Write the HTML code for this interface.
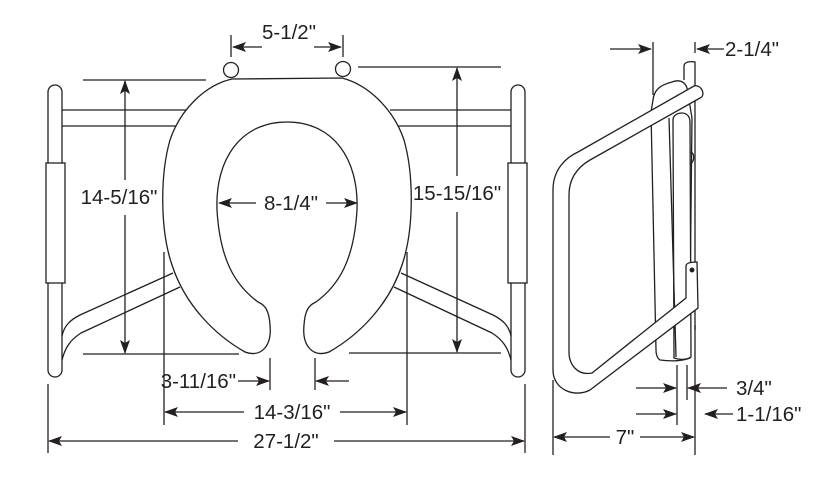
<!DOCTYPE html>
<html><head><meta charset="utf-8"><style>
html,body{margin:0;padding:0;background:#fff;}
svg{display:block;}
text{font-family:"Liberation Sans",sans-serif;font-size:20.5px;fill:#231f20;}
</style></head><body>
<svg width="823" height="480" viewBox="0 0 823 480" xmlns="http://www.w3.org/2000/svg">
<defs>
<marker id="a" markerWidth="14" markerHeight="10" refX="13" refY="5" orient="auto" markerUnits="userSpaceOnUse">
<path d="M0,0 L14,5 L0,10 L3,5 Z" fill="#231f20"/></marker>
</defs>
<g fill="none" stroke="#231f20" stroke-width="1.3">
<rect x="48" y="85" width="14" height="292" rx="7"/>
<rect x="46" y="163" width="19" height="120" fill="#fff"/>
<rect x="511" y="85" width="14" height="292" rx="7"/>
<rect x="508" y="163" width="19" height="120" fill="#fff"/>
<line x1="62" y1="110" x2="186" y2="110"/><line x1="62" y1="126" x2="177" y2="126"/>
<line x1="390" y1="110" x2="511" y2="110"/><line x1="398" y1="126" x2="511" y2="126"/>
<path d="M173,273 L80,315 C70,320 64,326 62,336"/>
<path d="M180,287 L81,333 C70,340 65,348 62,360"/>
<path d="M401,273 L493,315 C503,320 509,326 511,336"/>
<path d="M394,287 L492,333 C503,340 508,348 511,360"/>
<path fill="#fff" d="M232,79 L342,78 C369,85 394,110 404,140 C414,175 414,230 402,265 C389,305 359,335 329,352 C312,358 302,345 304,325 C305,310 309,305 316,302 C339,285 354,260 357,210 C359,160 334,122 287,122 C240,122 215,160 217,210 C220,260 235,285 258,302 C265,305 269,310 270,325 C272,345 262,358 245,352 C215,335 185,305 172,265 C160,230 160,175 170,140 C180,110 205,85 232,79 Z"/>
<circle cx="231" cy="70" r="7.5" fill="#fff"/><circle cx="343" cy="69" r="7.5" fill="#fff"/>
<line x1="231" y1="35" x2="231" y2="57"/><line x1="343" y1="35" x2="343" y2="57"/>
<line x1="262" y1="47" x2="233" y2="47" marker-end="url(#a)"/><line x1="314" y1="47" x2="341" y2="47" marker-end="url(#a)"/>
<line x1="83" y1="80" x2="206" y2="80"/><line x1="83" y1="354" x2="239" y2="354"/>
<line x1="125" y1="180" x2="125" y2="81" marker-end="url(#a)"/><line x1="125" y1="215" x2="125" y2="353" marker-end="url(#a)"/>
<line x1="358" y1="67" x2="501" y2="67"/><line x1="349" y1="353" x2="501" y2="353"/>
<line x1="457" y1="176" x2="457" y2="68" marker-end="url(#a)"/><line x1="457" y1="212" x2="457" y2="352" marker-end="url(#a)"/>
<line x1="256" y1="203" x2="219" y2="203" marker-end="url(#a)"/><line x1="326" y1="203" x2="357" y2="203" marker-end="url(#a)"/>
<line x1="270" y1="358" x2="270" y2="390"/><line x1="315" y1="358" x2="315" y2="390"/>
<line x1="238" y1="381" x2="269" y2="381" marker-end="url(#a)"/><line x1="349" y1="381" x2="316" y2="381" marker-end="url(#a)"/>
<line x1="164" y1="252" x2="164" y2="425"/><line x1="407" y1="252" x2="407" y2="425"/>
<line x1="244" y1="412" x2="165" y2="412" marker-end="url(#a)"/><line x1="340" y1="412" x2="406" y2="412" marker-end="url(#a)"/>
<line x1="48" y1="384" x2="48" y2="453"/><line x1="525" y1="384" x2="525" y2="453"/>
<line x1="238" y1="441" x2="49" y2="441" marker-end="url(#a)"/><line x1="334" y1="441" x2="524" y2="441" marker-end="url(#a)"/>
<path d="M684,80 L684,66 C684,62 690,61 695,62 L695,330"/>
<path fill="#fff" d="M653,100 C654,90 660,85 672,82 C680,79 685,82 687,88 L692,118 L690,300 L690,358 C680,362 668,361 660,360 C657,358 656,355 656,350 L651,112 Z"/>
<path fill="#fff" d="M673,120 C673,115 678,113 682,113 C688,113 690,118 690,122 L691,357 C686,360 680,360 674,358 Z"/>
<path d="M669,118 L676,357"/>
<path d="M690,152 C695,152 695,162 690,164"/>
<path fill="#fff" fill-rule="evenodd" d="M694,86 C702,84 706,96 700,98 L590,160 C578,167 569,178 569,195 L569,352 C569,365 578,376 592,373 L686,298 L686,266 C686,263 690,262 697,262 L698,308 L590,390 C575,398 553,390 553,370 L553,190 C553,170 565,158 578,152 Z"/>
<circle cx="692" cy="270" r="1.8" fill="#231f20"/>
<line x1="653" y1="42" x2="653" y2="95"/><line x1="695" y1="42" x2="695" y2="53"/>
<line x1="610" y1="49" x2="651" y2="49" marker-end="url(#a)"/><line x1="724" y1="49" x2="697" y2="49" marker-end="url(#a)"/>
<line x1="553" y1="380" x2="553" y2="455"/><line x1="695" y1="325" x2="695" y2="455"/>
<line x1="610" y1="437" x2="554" y2="437" marker-end="url(#a)"/><line x1="640" y1="437" x2="694" y2="437" marker-end="url(#a)"/>
<line x1="677" y1="365" x2="677" y2="425"/><line x1="687" y1="365" x2="687" y2="400"/>
<line x1="636" y1="388" x2="676" y2="388" marker-end="url(#a)"/><line x1="727" y1="388" x2="688" y2="388" marker-end="url(#a)"/>
<line x1="636" y1="414" x2="676" y2="414" marker-end="url(#a)"/><line x1="733" y1="414" x2="705" y2="414" marker-end="url(#a)"/>
</g>
<g>
<text x="289" y="39" text-anchor="middle">5-1/2"</text>
<text x="119" y="204" text-anchor="middle">14-5/16"</text>
<text x="457" y="200" text-anchor="middle">15-15/16"</text>
<text x="291" y="210" text-anchor="middle">8-1/4"</text>
<text x="236" y="388" text-anchor="end">3-11/16"</text>
<text x="292" y="419" text-anchor="middle">14-3/16"</text>
<text x="286" y="448" text-anchor="middle">27-1/2"</text>
<text x="725" y="56">2-1/4"</text>
<text x="625" y="444" text-anchor="middle">7"</text>
<text x="736" y="395">3/4"</text>
<text x="736" y="421">1-1/16"</text>
</g>
</svg>
</body></html>
